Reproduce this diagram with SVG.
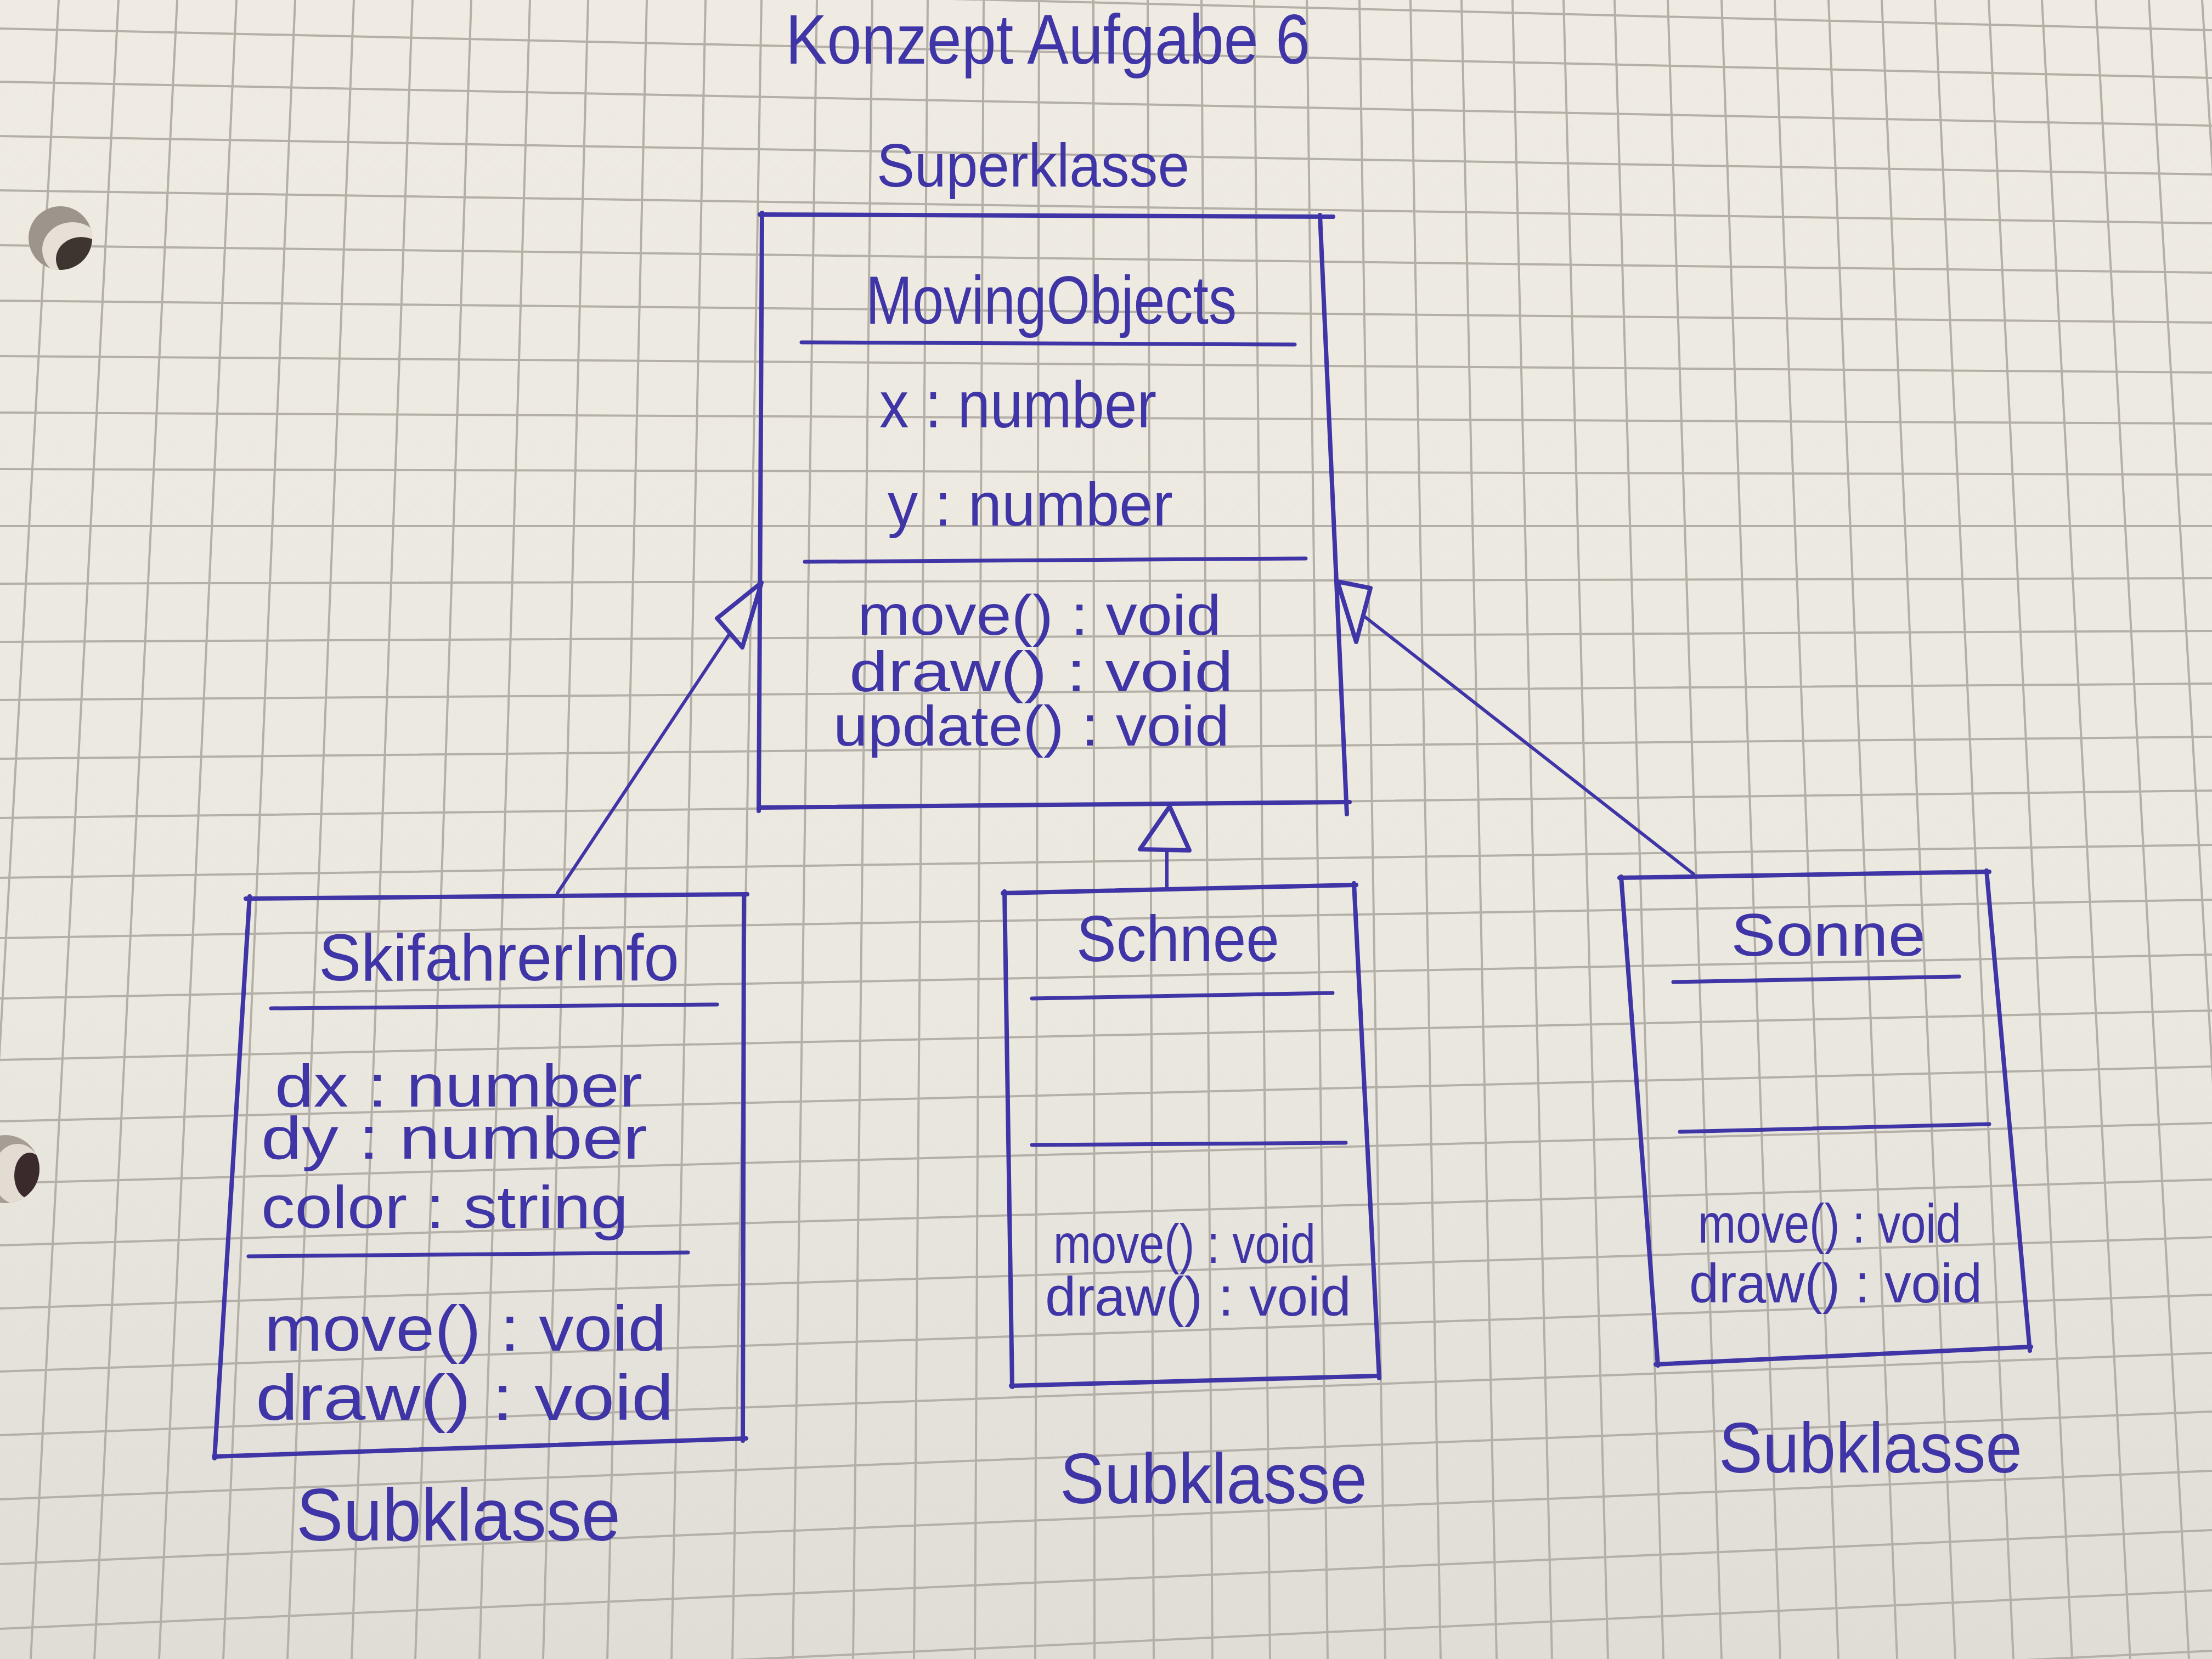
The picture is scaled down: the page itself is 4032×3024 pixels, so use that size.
<svg xmlns="http://www.w3.org/2000/svg" width="4032" height="3024" viewBox="0 0 4032 3024">
<defs>
<style>
.ink{fill:none;stroke:#3f35a6;stroke-width:8;stroke-linecap:round;stroke-linejoin:round}
.sep{fill:none;stroke:#3f35a6;stroke-width:7;stroke-linecap:round}
.con{fill:none;stroke:#3f35a6;stroke-width:6;stroke-linecap:round}
.arrowhead{fill:none;stroke:#3f35a6;stroke-width:8;stroke-linejoin:round}
.grid{fill:none;stroke:#b4b0a7;stroke-width:4}
.t{font-family:"Liberation Sans",Arial,sans-serif;fill:#3f35a6}
</style>
<linearGradient id="paper" x1="0" y1="0" x2="0" y2="1">
<stop offset="0" stop-color="#efebe2"/>
<stop offset="0.6" stop-color="#ebe8e0"/>
<stop offset="1" stop-color="#e0ddd7"/>
</linearGradient>
<clipPath id="hole1"><circle cx="110" cy="434" r="58"/></clipPath>
<clipPath id="hole2"><circle cx="10" cy="2131" r="62"/></clipPath>
</defs>
<rect x="0" y="0" width="4032" height="3024" fill="url(#paper)"/>
<g id="grid">
<path class="grid" d="M107 0L-63 3024M216 0L56 3024M323 0L172 3024M431 0L290 3024M538 0L407 3024M645 0L524 3024M752 0L641 3024M859 0L757 3024M966 0L874 3024M1072 0L990 3024M1179 0L1107 3024M1286 0L1224 3024M1388 0L1335 3024M1489 0L1445 3024M1590 0L1555 3024M1691 0L1666 3024M1793 0L1777 3024M1894 0L1887 3024M1993 0L1995 3024M2092 0L2103 3024M2190 0L2210 3024M2286 0L2315 3024M2382 0L2420 3024M2478 0L2525 3024M2571 0L2626 3024M2664 0L2728 3024M2757 0L2829 3024M2850 0L2931 3024M2943 0L3032 3024M3040 0L3138 3024M3138 0L3245 3024M3235 0L3351 3024M3333 0L3458 3024M3430 0L3564 3024M3527 0L3670 3024M3625 0L3777 3024M3722 0L3883 3024M3820 0L3990 3024M3917 0L4096 3024M4014 0L4201 3024"/>
<path class="grid" d="M0 -45L4032 55M0 52L4032 142M0 149L4032 229M0 248L4032 318M0 347L4032 407M0 447L4032 497M0 548L4032 588M0 649L4032 679M0 752L4032 772M0 855L4032 865M0 959L4032 959M0 1064L4032 1054M0 1170L4032 1150M0 1276L4032 1246M0 1383L4032 1343M0 1491L4032 1441M0 1600L4032 1540M0 1710L4032 1640M0 1820L4032 1740M0 1932L4032 1842M0 2044L4032 1944M0 2157L4032 2047M0 2270L4032 2150M0 2385L4032 2255M0 2500L4032 2360M0 2616L4032 2466M0 2733L4032 2573M0 2851L4032 2681M0 2969L4032 2789M0 3089L4032 2899M0 3209L4032 3009"/>
</g>
<g id="punch-holes">
<circle cx="110" cy="434" r="58" fill="#9d958c"/>
<g clip-path="url(#hole1)">
<ellipse cx="132" cy="455" rx="55" ry="50" fill="#e6e0d6"/>
<ellipse cx="148" cy="472" rx="46" ry="40" fill="#3e3531"/>
</g>
<circle cx="10" cy="2131" r="62" fill="#a69e95"/>
<g clip-path="url(#hole2)">
<ellipse cx="32" cy="2140" rx="45" ry="55" fill="#e2dcd2"/>
<ellipse cx="54" cy="2143" rx="28" ry="42" fill="#3a2a2c"/>
</g>
</g>
<g id="title">
<text class="t" x="1432" y="116" font-size="128" textLength="956" lengthAdjust="spacingAndGlyphs">Konzept Aufgabe 6</text>
</g>
<g id="label-superklasse">
<text class="t" x="1598" y="340" font-size="112" textLength="570" lengthAdjust="spacingAndGlyphs">Superklasse</text>
</g>
<g id="node-movingobjects">
<line class="ink" x1="1385" y1="391" x2="2430" y2="395"/>
<line class="ink" x1="2406" y1="392" x2="2455" y2="1484"/>
<line class="ink" x1="1383" y1="1472" x2="2460" y2="1462"/>
<line class="ink" x1="1389" y1="388" x2="1383" y2="1478"/>
<text class="t" x="1578" y="590" font-size="125" textLength="676" lengthAdjust="spacingAndGlyphs">MovingObjects</text>
<line class="sep" x1="1461" y1="624" x2="2360" y2="628"/>
<text class="t" x="1603" y="779" font-size="120" textLength="505" lengthAdjust="spacingAndGlyphs">x : number</text>
<text class="t" x="1618" y="958" font-size="112" textLength="520" lengthAdjust="spacingAndGlyphs">y : number</text>
<line class="sep" x1="1467" y1="1024" x2="2380" y2="1018"/>
<text class="t" x="1563" y="1157" font-size="104" textLength="663" lengthAdjust="spacingAndGlyphs">move() : void</text>
<text class="t" x="1548" y="1260" font-size="104" textLength="700" lengthAdjust="spacingAndGlyphs">draw() : void</text>
<text class="t" x="1519" y="1359" font-size="104" textLength="722" lengthAdjust="spacingAndGlyphs">update() : void</text>
</g>
<g id="node-skifahrerinfo">
<line class="ink" x1="448" y1="1638" x2="1362" y2="1630"/>
<line class="ink" x1="1356" y1="1630" x2="1354" y2="2626"/>
<line class="ink" x1="390" y1="2655" x2="1360" y2="2622"/>
<line class="ink" x1="455" y1="1634" x2="391" y2="2658"/>
<text class="t" x="581" y="1787" font-size="120" textLength="657" lengthAdjust="spacingAndGlyphs">SkifahrerInfo</text>
<line class="sep" x1="494" y1="1838" x2="1307" y2="1831"/>
<text class="t" x="501" y="2017" font-size="110" textLength="670" lengthAdjust="spacingAndGlyphs">dx : number</text>
<text class="t" x="476" y="2112" font-size="110" textLength="704" lengthAdjust="spacingAndGlyphs">dy : number</text>
<text class="t" x="476" y="2238" font-size="110" textLength="669" lengthAdjust="spacingAndGlyphs">color : string</text>
<line class="sep" x1="453" y1="2290" x2="1254" y2="2283"/>
<text class="t" x="482" y="2462" font-size="116" textLength="733" lengthAdjust="spacingAndGlyphs">move() : void</text>
<text class="t" x="466" y="2588" font-size="116" textLength="762" lengthAdjust="spacingAndGlyphs">draw() : void</text>
</g>
<g id="node-schnee">
<line class="ink" x1="1828" y1="1628" x2="2472" y2="1613"/>
<line class="ink" x1="2468" y1="1610" x2="2514" y2="2512"/>
<line class="ink" x1="1843" y1="2526" x2="2512" y2="2508"/>
<line class="ink" x1="1831" y1="1625" x2="1845" y2="2528"/>
<text class="t" x="1962" y="1752" font-size="118" textLength="370" lengthAdjust="spacingAndGlyphs">Schnee</text>
<line class="sep" x1="1881" y1="1820" x2="2429" y2="1810"/>
<line class="sep" x1="1881" y1="2087" x2="2453" y2="2083"/>
<text class="t" x="1920" y="2302" font-size="100" textLength="478" lengthAdjust="spacingAndGlyphs">move() : void</text>
<text class="t" x="1905" y="2398" font-size="100" textLength="558" lengthAdjust="spacingAndGlyphs">draw() : void</text>
</g>
<g id="node-sonne">
<line class="ink" x1="2952" y1="1600" x2="3626" y2="1589"/>
<line class="ink" x1="3621" y1="1587" x2="3700" y2="2462"/>
<line class="ink" x1="3018" y1="2487" x2="3702" y2="2455"/>
<line class="ink" x1="2955" y1="1598" x2="3022" y2="2489"/>
<text class="t" x="3155" y="1742" font-size="110" textLength="355" lengthAdjust="spacingAndGlyphs">Sonne</text>
<line class="sep" x1="3050" y1="1790" x2="3571" y2="1780"/>
<line class="sep" x1="3062" y1="2063" x2="3626" y2="2049"/>
<text class="t" x="3095" y="2265" font-size="100" textLength="480" lengthAdjust="spacingAndGlyphs">move() : void</text>
<text class="t" x="3079" y="2374" font-size="100" textLength="534" lengthAdjust="spacingAndGlyphs">draw() : void</text>
</g>
<g id="label-subklasse-skifahrerinfo">
<text class="t" x="540" y="2808" font-size="135" textLength="591" lengthAdjust="spacingAndGlyphs">Subklasse</text>
</g>
<g id="label-subklasse-schnee">
<text class="t" x="1932" y="2740" font-size="130" textLength="560" lengthAdjust="spacingAndGlyphs">Subklasse</text>
</g>
<g id="label-subklasse-sonne">
<text class="t" x="3133" y="2684" font-size="130" textLength="553" lengthAdjust="spacingAndGlyphs">Subklasse</text>
</g>
<g id="connectors">
<line class="con" x1="1016" y1="1628" x2="1330" y2="1155"/>
<polygon class="arrowhead" points="1388,1062 1307,1127 1353,1180"/>
<line class="con" x1="2127" y1="1622" x2="2127" y2="1548"/>
<polygon class="arrowhead" points="2132,1470 2078,1548 2168,1550"/>
<line class="con" x1="3087" y1="1593" x2="2485" y2="1122"/>
<polygon class="arrowhead" points="2438,1060 2498,1072 2472,1170"/>
</g>
</svg>
